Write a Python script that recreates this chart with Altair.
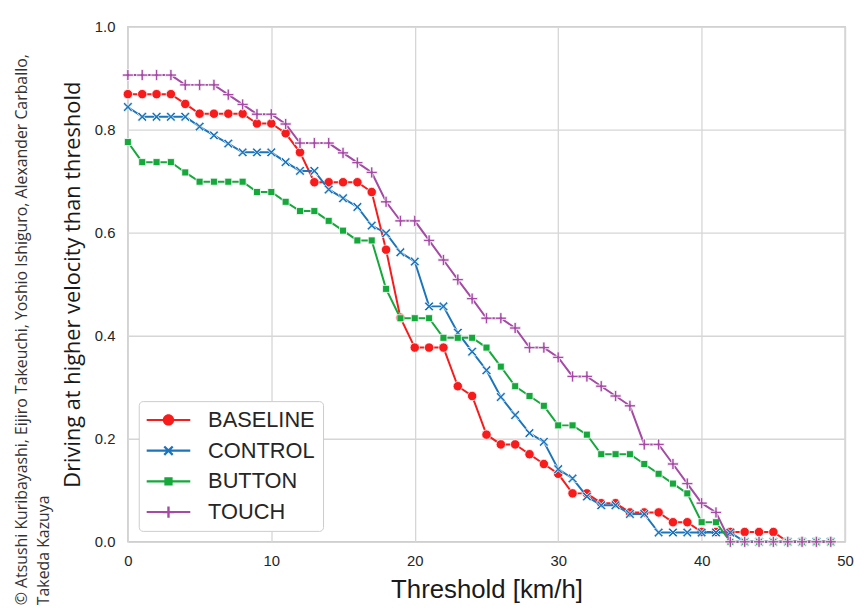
import altair as alt
import pandas as pd

# ---------------- data ----------------
thresholds = list(range(50))
series_names = ["BASELINE", "CONTROL", "BUTTON", "TOUCH"]

baseline = [0.869, 0.869, 0.869, 0.869, 0.850, 0.831, 0.831, 0.831, 0.831, 0.812,
            0.812, 0.793, 0.756, 0.698, 0.698, 0.698, 0.698, 0.679, 0.567, 0.435,
            0.377, 0.377, 0.377, 0.302, 0.283, 0.208, 0.189, 0.189, 0.170, 0.151,
            0.132, 0.094, 0.094, 0.075, 0.075, 0.057, 0.057, 0.057, 0.038, 0.038,
            0.019, 0.019, 0.019, 0.019, 0.019, 0.019, 0.0, 0.0, 0.0, 0.0]
control = [0.844, 0.825, 0.825, 0.825, 0.825, 0.806, 0.789, 0.773, 0.756, 0.756,
           0.756, 0.737, 0.720, 0.720, 0.684, 0.667, 0.650, 0.614, 0.599, 0.562,
           0.544, 0.457, 0.457, 0.406, 0.369, 0.333, 0.281, 0.246, 0.211, 0.194,
           0.141, 0.123, 0.088, 0.071, 0.071, 0.054, 0.054, 0.018, 0.018, 0.018,
           0.018, 0.018, 0.018, 0.0, 0.0, 0.0, 0.0, 0.0, 0.0, 0.0]
button = [0.776, 0.737, 0.737, 0.737, 0.717, 0.699, 0.699, 0.699, 0.699, 0.679,
          0.679, 0.660, 0.642, 0.642, 0.623, 0.604, 0.585, 0.585, 0.491, 0.434,
          0.434, 0.434, 0.396, 0.396, 0.396, 0.377, 0.340, 0.302, 0.283, 0.264,
          0.226, 0.226, 0.208, 0.170, 0.170, 0.170, 0.151, 0.132, 0.113, 0.094,
          0.038, 0.038, 0.0, 0.0, 0.0, 0.0, 0.0, 0.0, 0.0, 0.0]
touch = [0.906, 0.906, 0.906, 0.906, 0.887, 0.887, 0.887, 0.868, 0.849, 0.830,
         0.830, 0.811, 0.774, 0.774, 0.774, 0.755, 0.736, 0.717, 0.660, 0.623,
         0.623, 0.585, 0.547, 0.509, 0.472, 0.434, 0.434, 0.415, 0.377, 0.377,
         0.358, 0.321, 0.321, 0.302, 0.283, 0.264, 0.189, 0.189, 0.151, 0.113,
         0.075, 0.057, 0.0, 0.0, 0.0, 0.0, 0.0, 0.0, 0.0, 0.0]

colors = ["#f81b1b", "#1b75bc", "#15a83b", "#a54aa5"]
x_ticks = [0, 10, 20, 30, 40, 50]
y_ticks = [0.0, 0.2, 0.4, 0.6, 0.8, 1.0]
credit = ["\u00a9 Atsushi Kuribayashi, Eijiro Takeuchi, Yoshio Ishiguro, Alexander Carballo,",
          "Takeda Kazuya"]

rows = []
for name, vals in zip(series_names, [baseline, control, button, touch]):
    for t, v in zip(thresholds, vals):
        rows.append({"threshold": t, "value": v, "series": name})
df = pd.DataFrame(rows)


# ---------------- marker shapes ----------------
def poly(pts, s=1.0, dx=0.0):
    return "M" + "L".join(f"{x * s + dx:.4f},{y * s:.4f}" for x, y in pts) + "Z"


a = 0.32
X_PTS = [(0, -a), (1 - a, -1), (1, -(1 - a)), (a, 0), (1, 1 - a), (1 - a, 1), (0, a),
         (-(1 - a), 1), (-1, 1 - a), (-a, 0), (-1, -(1 - a)), (-(1 - a), -1)]
w = 0.21
PLUS_PTS = [(-w, -1), (w, -1), (w, -w), (1, -w), (1, w), (w, w), (w, 1), (-w, 1),
            (-w, w), (-1, w), (-1, -w), (-w, -w)]
SQ_PTS = [(-1, -1), (1, -1), (1, 1), (-1, 1)]


def circle(r, cx=0.0):
    return (f"M{cx - r},0A{r},{r} 0 1 1 {cx + r},0"
            f"A{r},{r} 0 1 1 {cx - r},0Z")


chart_shapes = ["circle", poly(X_PTS), "square", poly(PLUS_PTS)]
chart_sizes = [90, 90, 50, 125]

# legend glyph: unit = 11 px; line from -1 to 3 (44 px), marker centred at 1
t = 0.095
line_path = poly([(-1, -t), (3, -t), (3, t), (-1, t)])
legend_shapes = [
    line_path + circle(0.52, 1.0),
    line_path + poly(X_PTS, 0.46, 1.0),
    line_path + poly(SQ_PTS, 0.38, 1.0),
    line_path + poly(PLUS_PTS, 0.52, 1.0),
]

x_enc = alt.X("threshold:Q",
              scale=alt.Scale(domain=[0, 50], nice=False),
              axis=alt.Axis(values=x_ticks, title="Threshold [km/h]", format="d",
                            labelFontSize=15, titleFontSize=26, labelPadding=12,
                            titlePadding=8, labelFlush=False))
y_enc = alt.Y("value:Q",
              scale=alt.Scale(domain=[0, 1], nice=False),
              axis=alt.Axis(values=y_ticks, format=".1f",
                            title="Driving at higher velocity than threshold",
                            titleFont="Open Sans", titleFontSize=22,
                            labelFontSize=15, labelPadding=13, titlePadding=10))

base = alt.Chart(df)
layers = []
for i, name in enumerate(series_names):
    sub = base.transform_filter(alt.datum.series == name)
    layers.append(sub.mark_line(strokeWidth=2, color=colors[i]).encode(x=x_enc, y=y_enc))
    layers.append(
        sub.mark_point(filled=True, shape=chart_shapes[i], size=chart_sizes[i],
                       fill=colors[i], stroke="white", strokeWidth=0.8,
                       opacity=1).encode(x=x_enc, y=y_enc))

legend_kw = dict(title=None, orient="bottom-left", offset=11,
                 labelFont="Liberation Sans", labelFontSize=22, labelColor="#262626",
                 symbolSize=484, symbolOpacity=1, symbolStrokeWidth=0,
                 labelOffset=40, rowPadding=9, padding=8,
                 strokeColor="#cccccc", fillColor="white", cornerRadius=4)
legend_layer = base.mark_point(filled=True, opacity=0).encode(
    x=x_enc, y=y_enc,
    color=alt.Color("series:N", scale=alt.Scale(domain=series_names, range=colors),
                    legend=alt.Legend(**legend_kw)),
    shape=alt.Shape("series:N", scale=alt.Scale(domain=series_names, range=legend_shapes),
                    legend=alt.Legend(**legend_kw)),
)
layers.append(legend_layer)

chart = alt.layer(*layers).properties(
    width=724, height=520,
    autosize=alt.AutoSizeParams(type="none"),
    padding={"left": 121, "top": 16, "right": 10, "bottom": 64},
    title=alt.TitleParams(text=credit, orient="left", anchor="start", frame="bounds",
                          font="Open Sans", fontSize=16, fontWeight="normal",
                          color="#333333", lineHeight=22, offset=10, dx=-3),
).configure(
    font="Liberation Sans",
    background="white",
).configure_view(
    stroke="#cccccc", strokeWidth=1.5,
).configure_axis(
    grid=True, gridColor="#d6d6d6", gridWidth=1.3, domain=False, ticks=False,
    labelColor="#262626", titleColor="#1a1a1a", titleFontWeight="normal",
    labelFont="Liberation Sans", titleFont="Liberation Sans",
)

chart.save("out.html", embed_options={"renderer": "svg", "actions": False})
